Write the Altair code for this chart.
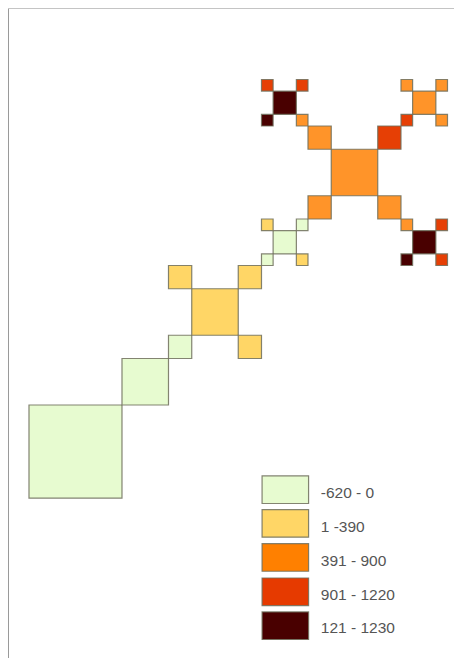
import altair as alt
import pandas as pd

# Squares of the cartogram, in grid cells: column, row, size, class
cols = [0, 8, 12, 14, 12, 18, 18,
        21, 20, 23, 20, 23,
        26, 24, 30, 24, 30,
        21, 20, 23, 20, 23,
        33, 32, 35, 32, 35,
        33, 32, 35, 32, 35]
rows = [0, 8, 12, 14, 18, 18, 12,
        21, 23, 23, 20, 20,
        26, 30, 30, 24, 24,
        33, 35, 35, 32, 32,
        33, 35, 35, 32, 32,
        21, 23, 23, 20, 20]
sizes = [8, 4, 2, 4, 2, 2, 2,
         2, 1, 1, 1, 1,
         4, 2, 2, 2, 2,
         2, 1, 1, 1, 1,
         2, 1, 1, 1, 1,
         2, 1, 1, 1, 1]
classes = ["a", "a", "a", "b", "b", "b", "b",
           "a", "b", "a", "a", "b",
           "c", "c", "d", "c", "c",
           "e", "d", "d", "e", "c",
           "c", "c", "c", "d", "c",
           "e", "c", "d", "e", "d"]

class_keys = ["a", "b", "c", "d", "e"]
class_fills = ["#E7FBD0", "#FFD666", "#FF9429", "#E63F05", "#490000"]

legend_labels = ["-620 - 0", "1 -390", "391 - 900", "901 - 1220", "121 - 1230"]
legend_fills = ["#E7FBD0", "#FFD666", "#FF8000", "#E63A00", "#490000"]
legend_top = [1.9, -1.0, -3.93, -6.88, -9.8]
legend_bottom = [-0.47, -3.37, -6.3, -9.25, -12.17]
legend_text_y = [0.43, -2.5, -5.4, -8.3, -11.2]

squares = pd.DataFrame({"x": cols, "y": rows, "size": sizes, "cls": classes})
squares["x2"] = squares["x"] + squares["size"]
squares["y2"] = squares["y"] + squares["size"]

legend = pd.DataFrame({
    "label": legend_labels, "fill": legend_fills,
    "top": legend_top, "bottom": legend_bottom, "ty": legend_text_y,
    "x": [20.05] * 5, "x2": [24.05] * 5, "tx": [25.1] * 5,
})

xs = alt.Scale(domain=[-1.806, 36.56], nice=False, zero=False)
ys = alt.Scale(domain=[-13.76, 42.15], nice=False, zero=False)

rects = alt.Chart(squares).mark_rect(stroke="#6f6f5c", strokeOpacity=0.85, strokeWidth=1.2).encode(
    x=alt.X("x:Q", scale=xs, axis=None),
    x2="x2:Q",
    y=alt.Y("y:Q", scale=ys, axis=None),
    y2="y2:Q",
    fill=alt.Fill("cls:N", scale=alt.Scale(domain=class_keys, range=class_fills), legend=None),
)

swatches = alt.Chart(legend).mark_rect(stroke="#6f6f5c", strokeOpacity=0.85, strokeWidth=1.2).encode(
    x=alt.X("x:Q", scale=xs, axis=None),
    x2="x2:Q",
    y=alt.Y("top:Q", scale=ys, axis=None),
    y2="bottom:Q",
    fill=alt.Fill("fill:N", scale=None),
)

labels = alt.Chart(legend).mark_text(
    align="left", baseline="middle", font="Liberation Sans", fontSize=15.5, color="#555555"
).encode(
    x=alt.X("tx:Q", scale=xs, axis=None),
    y=alt.Y("ty:Q", scale=ys, axis=None),
    text="label:N",
)

frame_left = alt.Chart(legend).mark_rule(color="#9a9a9a", strokeWidth=1).encode(
    x=alt.value(0.5), y=alt.value(0), y2=alt.value(650)
)
frame_top = alt.Chart(legend).mark_rule(color="#c4c4c4", strokeWidth=1).encode(
    x=alt.value(0), x2=alt.value(446), y=alt.value(0.5)
)

chart = alt.layer(frame_left, frame_top, rects, swatches, labels).properties(
    width=446, height=650, padding=0,
    autosize=alt.AutoSizeParams(type="none"),
).configure_view(stroke=None).resolve_scale(fill="independent")

chart.save("out.html", embed_options={"renderer": "svg", "actions": False})
